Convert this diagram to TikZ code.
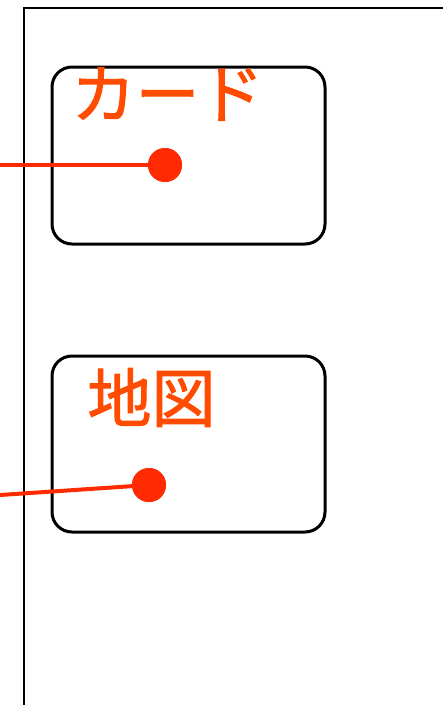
\documentclass[tikz,border=0pt]{standalone}
\usepackage{fontspec}
\newfontfamily\jpfont[FakeBold=1.6]{Noto Sans CJK JP}
\definecolor{labelorange}{RGB}{255,76,0}
\definecolor{dotred}{RGB}{255,42,0}
\begin{document}
\begin{tikzpicture}[x=1pt,y=-1pt,
  card/.style={draw=black,line width=3pt,rounded corners=20pt},
  lbl/.style={text=labelorange,font=\jpfont\fontsize{64}{64}\selectfont,inner sep=0pt},
  pin/.style={circle,fill=dotred,minimum size=34pt,inner sep=0pt},
  wire/.style={draw=dotred,line width=4pt}]
\useasboundingbox (0,0) rectangle (443,705);
\draw[line width=1.5pt] (24,705) -- (24,8) -- (443,8);
\draw[card] (52,67) rectangle (325,244);
\draw[card] (52,356) rectangle (325,532);
\node[lbl] (t1) at (167.5,94) {カード};
\node[lbl] (t2) at (151.5,397.5) {地図};
\node[pin] (d1) at (165,165) {};
\node[pin] (d2) at (149,485) {};
\coordinate (s1) at (0,165);
\coordinate (s2) at (0,495);
\draw[wire] (s1) -- (d1.center);
\draw[wire] (s2) -- (d2.center);
\node[pin] at (d1) {};
\node[pin] at (d2) {};
\end{tikzpicture}
\end{document}
